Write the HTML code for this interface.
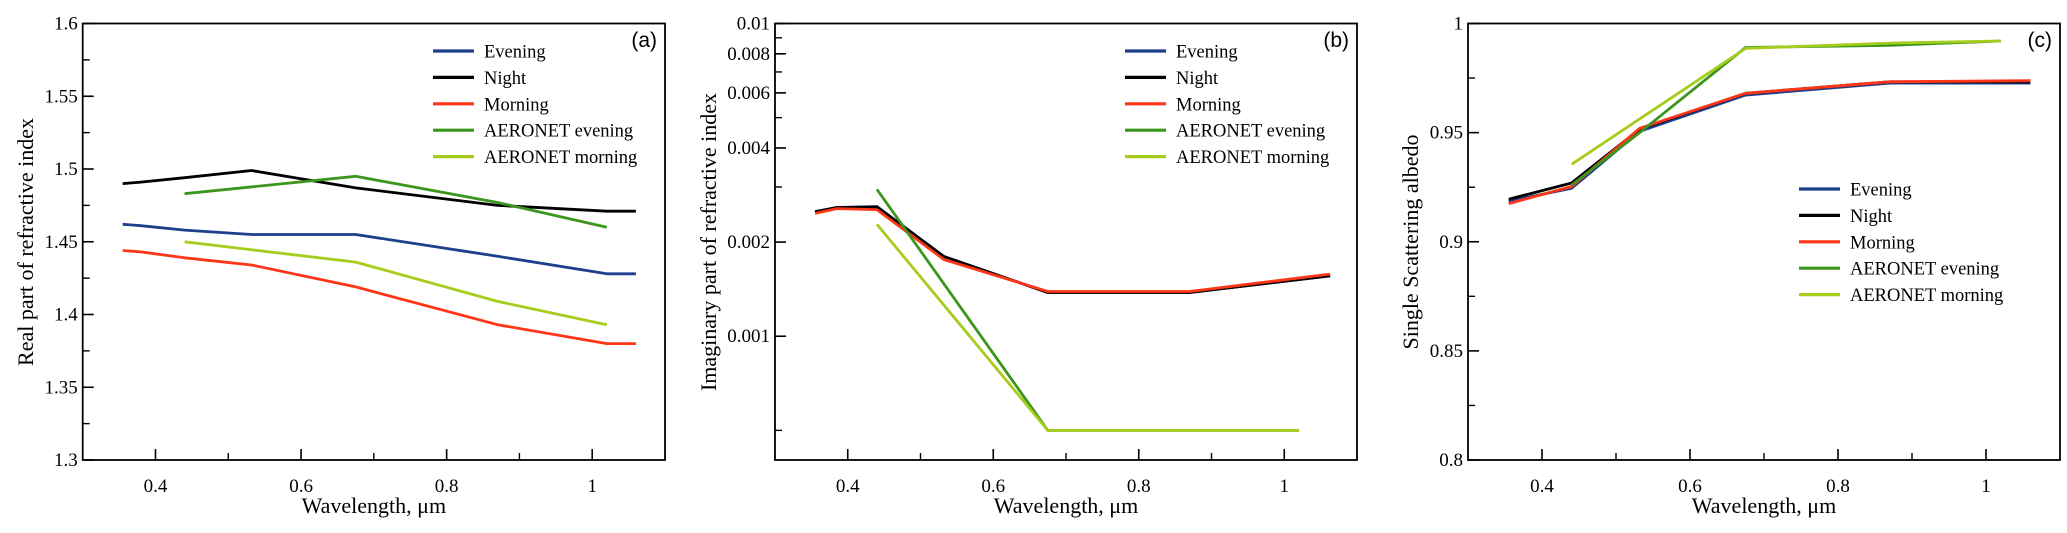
<!DOCTYPE html>
<html><head><meta charset="utf-8"><style>
html,body{margin:0;padding:0;background:#fff;}
svg{display:block;font-family:"Liberation Serif",serif;}
</style></head><body>
<svg id="fig" width="2067" height="533" viewBox="0 0 2067 533" xmlns="http://www.w3.org/2000/svg"></svg>
<script>
const seriesNames = ["Evening","Night","Morning","AERONET evening","AERONET morning"];
const seriesColors = ["#1d3f8c","#000000","#ff3518","#3c961e","#a6cc1c"];
const xMain = [0.355,0.38,0.44,0.532,0.675,0.87,1.02,1.06];
const xAer = [0.44,0.675,0.87,1.02];
// Panel a: real part
const aEvening = [1.462,1.461,1.458,1.455,1.455,1.44,1.428,1.428];
const aNight = [1.49,1.491,1.494,1.499,1.487,1.475,1.471,1.471];
const aMorning = [1.444,1.443,1.439,1.434,1.419,1.393,1.38,1.38];
const aAerEvening = [1.483,1.495,1.477,1.46];
const aAerMorning = [1.45,1.436,1.409,1.393];
// Panel b: imaginary part
const xB = [0.355,0.385,0.44,0.532,0.675,0.87,1.063];
const bEvening = [0.00250,0.00258,0.00260,0.00180,0.00138,0.00138,0.00156];
const bNight = [0.00250,0.00258,0.00259,0.00180,0.00138,0.00138,0.00156];
const bMorning = [0.00247,0.00256,0.00254,0.00176,0.00139,0.00139,0.00158];
const bAerEvening = [0.00295,0.0005,0.0005,0.0005];
const bAerMorning = [0.00228,0.0005,0.0005,0.0005];
// Panel c: SSA
const xC = [0.355,0.44,0.532,0.675,0.87,1.06];
const cEvening = [0.9186,0.9245,0.9506,0.9672,0.9727,0.9727];
const cNight = [0.9195,0.9269,0.9516,0.968,0.9733,0.9733];
const cMorning = [0.9175,0.9253,0.952,0.968,0.9733,0.9738];
const xCAer = [0.44,0.532,0.675,0.87,1.02];
const cAerEvening = [0.926,0.950,0.989,0.990,0.992];
const xCAerM = [0.44,0.675,0.87,1.02];
const cAerMorning = [0.9355,0.9886,0.991,0.992];
const xTicks = [0.4,0.6,0.8,1];
const xTickLabels = ["0.4","0.6","0.8","1"];
const aTicks = [1.3,1.35,1.4,1.45,1.5,1.55,1.6];
const aTickLabels = ["1.3","1.35","1.4","1.45","1.5","1.55","1.6"];
const bTicks = [0.001,0.002,0.004,0.006,0.008,0.01];
const bTickLabels = ["0.001","0.002","0.004","0.006","0.008","0.01"];
const bMinor = [0.0005,0.003,0.005,0.007,0.009];
const cTicks = [0.8,0.85,0.9,0.95,1];
const cTickLabels = ["0.8","0.85","0.9","0.95","1"];

const NS="http://www.w3.org/2000/svg";
const svg=document.getElementById('fig');
function mk(tag,attrs,parent){const e=document.createElementNS(NS,tag);for(const k in attrs)e.setAttribute(k,attrs[k]);(parent||svg).appendChild(e);return e;}

function panel(cfg){
  const g=mk('g',{});
  
  
  const L=cfg.L,R=cfg.R,T=23.5,B=460;
  const xs=v=>L+(v-0.3)/(1.1-0.3)*(R-L);
  const ys=cfg.log
    ? v=>T+(Math.log10(cfg.ymax)-Math.log10(v))/(Math.log10(cfg.ymax)-Math.log10(cfg.ymin))*(B-T)
    : v=>T+(cfg.ymax-v)/(cfg.ymax-cfg.ymin)*(B-T);
  cfg.series.forEach((s,i)=>{
    const pts=s.y.map((v,j)=>xs(s.x[j]).toFixed(1)+','+ys(v).toFixed(1)).join(' ');
    const pl=mk('polyline',{points:pts,fill:'none',stroke:seriesColors[s.c],'stroke-width':2.8,'stroke-linejoin':'round'},g);
    
    
  });
  const fr=mk('rect',{x:L,y:T,width:R-L,height:B-T,fill:'none',stroke:'#000','stroke-width':1.8},g);
  
  
  xTicks.forEach((v,i)=>{
    mk('line',{x1:xs(v),x2:xs(v),y1:B,y2:B-11,stroke:'#000','stroke-width':1.6},g);
    const t=mk('text',{x:xs(v),y:B+32,'text-anchor':'middle','font-size':19},g);
    t.textContent=xTickLabels[i];
    
    
  });
  [0.5,0.7,0.9].forEach(v=>mk('line',{x1:xs(v),x2:xs(v),y1:B,y2:B-7,stroke:'#000','stroke-width':1.4},g));
  cfg.yt.forEach((v,i)=>{
    mk('line',{x1:L,x2:L+11,y1:ys(v),y2:ys(v),stroke:'#000','stroke-width':1.6},g);
    const t=mk('text',{x:L-5,y:ys(v)+6,'text-anchor':'end','font-size':19},g);
    t.textContent=cfg.ytl[i];
    
    
  });
  cfg.ym.forEach(v=>mk('line',{x1:L,x2:L+7,y1:ys(v),y2:ys(v),stroke:'#000','stroke-width':1.4},g));
  const xt=mk('text',{x:(L+R)/2,y:513,'text-anchor':'middle','font-size':22},g);
  xt.textContent='Wavelength, \u03bcm';
  
  
  const yt=mk('text',{x:0,y:0,'text-anchor':'middle','font-size':22,transform:`translate(${cfg.ytx},242) rotate(-90)`},g);
  yt.textContent=cfg.ytitle;
  
  
  const lb=mk('text',{x:R-8,y:47,'text-anchor':'end','font-size':21,'font-family':'Liberation Sans, sans-serif'},g);
  lb.textContent=cfg.label;
  
  
  seriesNames.forEach((n,i)=>{
    const y=cfg.legY+i*26.4;
    const e=mk('g',{},g);
    
    
    mk('line',{x1:cfg.legX,x2:cfg.legX+41,y1:y,y2:y,stroke:seriesColors[i],'stroke-width':3.2},e);
    const t=mk('text',{x:cfg.legX+51,y:y+6.5,'font-size':18.5},e);
    t.textContent=n;
  });
}

panel({name:'panel-a-real-part',L:82.7,R:665,ymin:1.3,ymax:1.6,log:false,yt:aTicks,ytl:aTickLabels,
  ym:[1.325,1.375,1.425,1.475,1.525,1.575],ytitle:'Real part of refractive index',ytx:33,label:'(a)',legX:433,legY:51,
  series:[{x:xMain,y:aEvening,c:0},{x:xMain,y:aNight,c:1},{x:xMain,y:aMorning,c:2},{x:xAer,y:aAerEvening,c:3},{x:xAer,y:aAerMorning,c:4}]});
panel({name:'panel-b-imaginary-part',L:775,R:1357,ymin:0.000402,ymax:0.01,log:true,yt:bTicks,ytl:bTickLabels,
  ym:bMinor,ytitle:'Imaginary part of refractive index',ytx:716,label:'(b)',legX:1125,legY:51,
  series:[{x:xB,y:bEvening,c:0},{x:xB,y:bNight,c:1},{x:xB,y:bMorning,c:2},{x:xAer,y:bAerEvening,c:3},{x:xAer,y:bAerMorning,c:4}]});
panel({name:'panel-c-single-scattering-albedo',L:1468,R:2060,ymin:0.8,ymax:1,log:false,yt:cTicks,ytl:cTickLabels,
  ym:[0.825,0.875,0.925,0.975],ytitle:'Single Scattering albedo',ytx:1418,label:'(c)',legX:1799,legY:189,
  series:[{x:xC,y:cEvening,c:0},{x:xC,y:cNight,c:1},{x:xC,y:cMorning,c:2},{x:xCAer,y:cAerEvening,c:3},{x:xCAerM,y:cAerMorning,c:4}]});
</script>
</body></html>
